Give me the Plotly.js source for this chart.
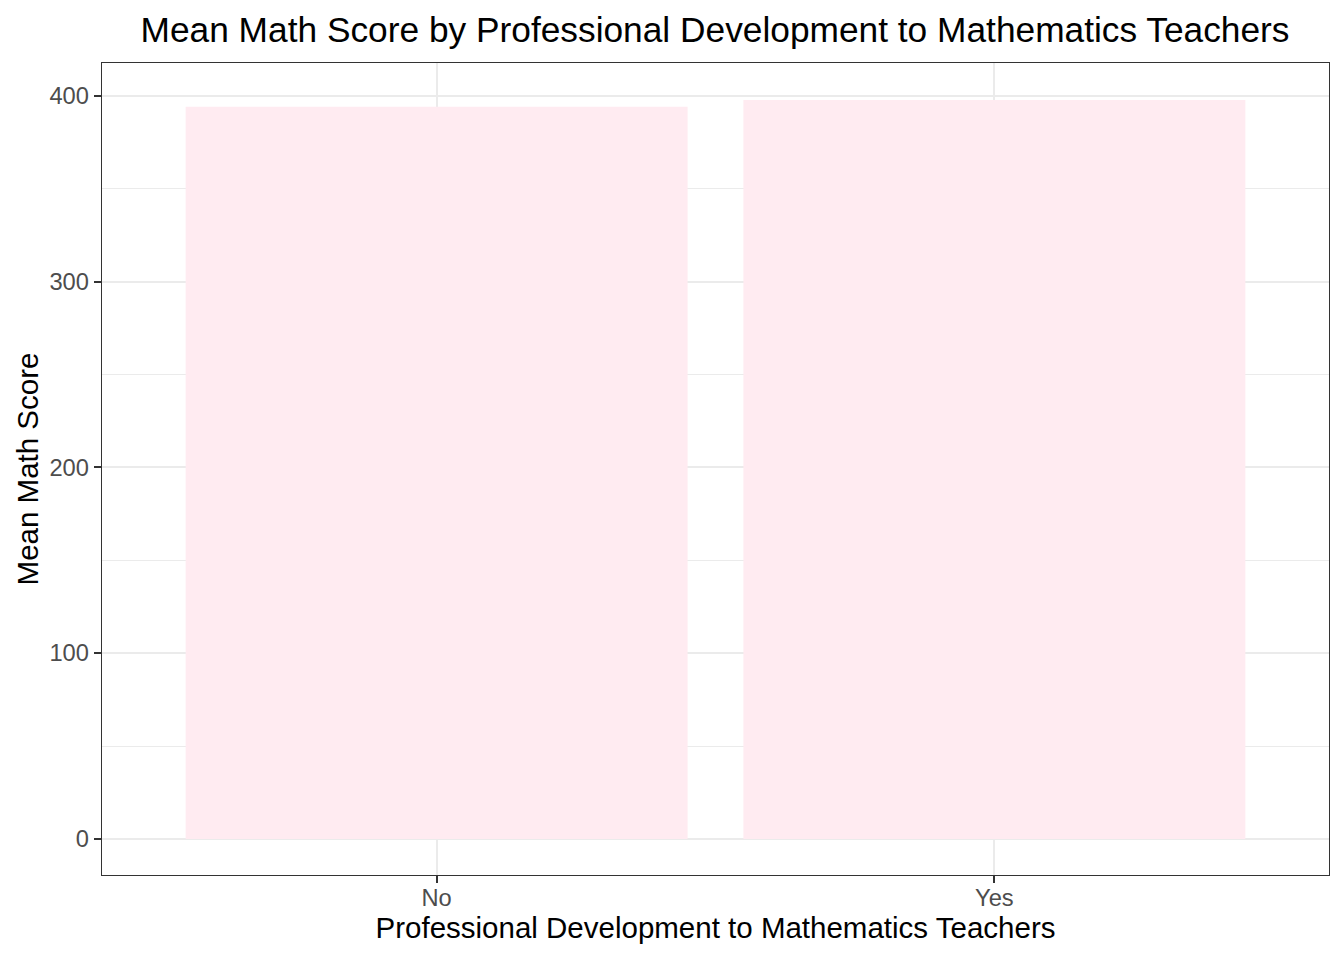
<!DOCTYPE html>
<html>
<head>
<meta charset="utf-8">
<script src="https://cdn.plot.ly/plotly-3.0.1.min.js"></script>
<style>html,body{margin:0;padding:0;background:#fff;}#chart{width:1344px;height:960px;}</style>
</head>
<body>
<div id="chart"></div>
<script>
const categories = ["No", "Yes"];
const meanScores = [394.1, 397.8];
const yTickVals = [0, 100, 200, 300, 400];
const yTickText = ["0", "100", "200", "300", "400"];

const font = "Liberation Sans, Arial, Helvetica, sans-serif";

const data = [{
  type: "bar",
  x: categories,
  y: meanScores,
  width: 0.9,
  marker: {color: "#FFEBF1", line: {width: 0}},
  hoverinfo: "x+y"
}];

const layout = {
  width: 1344,
  height: 960,
  margin: {l: 102, r: 15, t: 63, b: 85},
  paper_bgcolor: "#ffffff",
  plot_bgcolor: "#ffffff",
  showlegend: false,
  font: {family: font, color: "#000"},
  title: {
    text: "Mean Math Score by Professional Development to Mathematics Teachers",
    font: {family: font, size: 35.3, color: "#000"},
    x: 0.532, xanchor: "center",
    y: 0.969, yanchor: "middle"
  },
  xaxis: {
    type: "category",
    range: [-0.6, 1.6],
    showgrid: true,
    gridcolor: "#EBEBEB",
    gridwidth: 2,
    showline: true,
    mirror: true,
    linecolor: "#333333",
    linewidth: 1.3,
    ticks: "outside",
    ticklen: 7,
    tickwidth: 2,
    tickcolor: "#333333",
    ticklabelstandoff: -6,
    tickfont: {family: font, size: 23.7, color: "#4D4D4D"},
    zeroline: false,
    title: {text: "Professional Development to Mathematics Teachers", font: {family: font, size: 29.5, color: "#000"}, standoff: 5}
  },
  yaxis: {
    range: [-19.4, 417.7],
    tickvals: yTickVals,
    ticktext: yTickText,
    showgrid: true,
    gridcolor: "#EBEBEB",
    gridwidth: 2,
    minor: {dtick: 50, tick0: 0, showgrid: true, gridcolor: "#EBEBEB", gridwidth: 1, ticks: ""},
    showline: true,
    mirror: true,
    linecolor: "#333333",
    linewidth: 1.3,
    ticks: "outside",
    ticklen: 7,
    tickwidth: 2,
    tickcolor: "#333333",
    tickfont: {family: font, size: 23.7, color: "#4D4D4D"},
    zeroline: false,
    title: {text: "Mean Math Score", font: {family: font, size: 29.5, color: "#000"}, standoff: 2}
  }
};

Plotly.newPlot("chart", data, layout, {displayModeBar: false, staticPlot: true});
</script>
</body>
</html>
